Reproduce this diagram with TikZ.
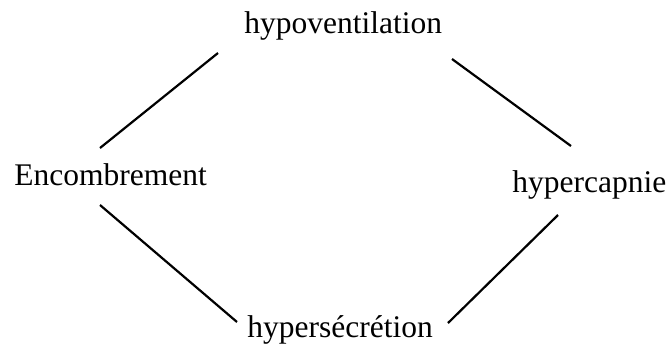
\documentclass[tikz,border=0pt]{standalone}
\usepackage{fontspec}
\setmainfont{Liberation Serif}
\usepackage{tikz}

\tikzset{
  term/.style={anchor=base west, inner sep=0pt, font=\fontsize{15.75}{19}\selectfont},
  link/.style={line width=1.1pt, black}
}

\begin{document}
\begin{tikzpicture}[x=0.5pt, y=-0.5pt]
      \useasboundingbox (0,0) rectangle (667,345);

      \node[term] (hypo) at (244,33) {hypoventilation};
      \node[term] (enc) at (14,185) {Encombrement};
      \node[term] (hcap) at (512,192) {hypercapnie};
      \node[term] (hsec) at (247,337) {hypersécrétion};

      % ends of the links
      \coordinate (encTop) at (100,148);
      \coordinate (hypoL) at (218,53);
      \coordinate (hypoR) at (452,59);
      \coordinate (hcapTop) at (571,146);
      \coordinate (encBot) at (100,205);
      \coordinate (hsecL) at (237,322);
      \coordinate (hsecR) at (448,323);
      \coordinate (hcapBot) at (558,215);

      \draw[link] (encTop) -- (hypoL);
      \draw[link] (hypoR) -- (hcapTop);
      \draw[link] (encBot) -- (hsecL);
      \draw[link] (hsecR) -- (hcapBot);
    \end{tikzpicture}
\end{document}
